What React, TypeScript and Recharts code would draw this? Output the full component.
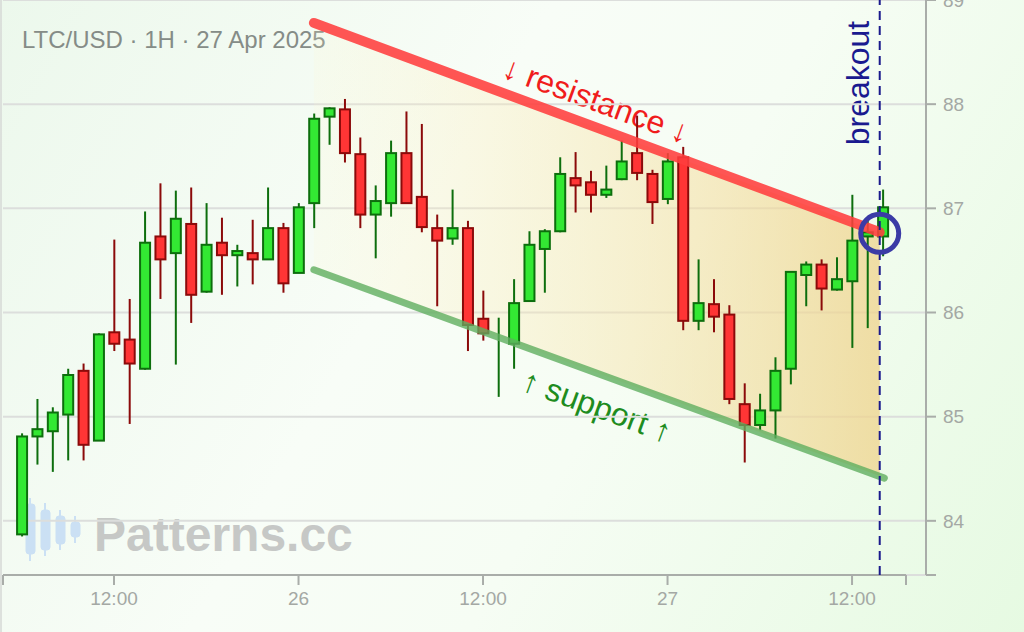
import React from 'react';
import {
  ComposedChart,
  Bar,
  Line,
  Area,
  XAxis,
  YAxis,
  CartesianGrid,
  ReferenceLine,
  ReferenceDot,
} from 'recharts';

// ---- Data (hour index from 25 Apr 06:00, 1H candles) ----
const opens = [
  83.87, 84.81, 84.86, 85.02, 85.44, 84.77, 85.81, 85.74, 85.46, 86.73,
  86.57, 86.85, 86.2, 86.67, 86.55, 86.57, 86.51, 86.81, 86.38, 87.05,
  87.88, 87.95, 87.52, 86.94, 87.05, 87.53, 87.11, 86.81, 86.71, 86.81,
  85.94, 85.8, 85.7, 86.11, 86.61, 86.78, 87.29, 87.25, 87.13, 87.28,
  87.53, 87.33, 87.09, 87.49, 85.92, 86.08, 85.98, 85.12, 84.92, 85.06,
  85.46, 86.36, 86.46, 86.22, 86.3, 86.73, 86.73,
];
const highs = [
  84.84, 85.17, 85.09, 85.46, 85.51, 85.8, 86.7, 86.13, 86.97, 87.24,
  87.17, 87.2, 87.05, 86.91, 86.65, 86.89, 87.2, 86.86, 87.05, 87.91,
  87.97, 88.05, 87.68, 87.22, 87.65, 87.93, 87.81, 86.94, 87.18, 86.88,
  86.21, 85.95, 86.32, 86.78, 86.8, 87.49, 87.54, 87.36, 87.41, 87.65,
  87.89, 87.37, 87.53, 87.59, 86.51, 86.32, 86.07, 85.32, 85.22, 85.57,
  86.39, 86.49, 86.51, 86.53, 87.13, 86.89, 87.18,
];
const lows = [
  83.85, 84.54, 84.47, 84.58, 84.58, 84.77, 85.63, 84.93, 85.45, 86.13,
  85.5, 85.9, 86.19, 86.17, 86.25, 86.27, 86.51, 86.19, 86.38, 86.81,
  87.61, 87.44, 86.81, 86.52, 86.92, 87.05, 86.77, 86.06, 86.65, 85.63,
  85.73, 85.19, 85.46, 86.11, 86.19, 86.77, 86.96, 86.96, 87.1, 87.27,
  87.27, 86.85, 87.04, 85.83, 85.83, 85.81, 85.12, 84.56, 84.87, 84.79,
  85.31, 86.06, 86.02, 86.21, 85.66, 85.85, 86.54,
];
const closes = [
  84.81, 84.88, 85.04, 85.4, 84.73, 85.79, 85.7, 85.51, 86.67, 86.51,
  86.9, 86.17, 86.65, 86.55, 86.59, 86.51, 86.81, 86.28, 87.01, 87.86,
  87.96, 87.53, 86.94, 87.07, 87.53, 87.05, 86.82, 86.69, 86.81, 85.88,
  85.8, 85.8, 86.09, 86.65, 86.78, 87.33, 87.22, 87.13, 87.18, 87.45,
  87.34, 87.06, 87.45, 85.92, 86.09, 85.96, 85.17, 84.92, 85.06, 85.44,
  86.39, 86.46, 86.23, 86.32, 86.69, 86.77, 87.01,
];

// channel lines (hour index, price)
const resistanceX = [19, 55.8];
const resistanceY = [88.78, 86.77];
const supportX = [19, 56.1];
const supportY = [86.41, 84.41];
const channelX = [19, 55.8];
const channelLow = [86.41, 84.43];
const channelHigh = [88.78, 86.77];
const breakoutX = 55.8;
const breakoutY = 86.76;

// axes
const xDomain = [-1.22, 58.81];
const xTickPositions = [-1.22, 6, 18, 30, 42, 54, 57.51];
const xTickLabels = ['', '12:00', '26', '12:00', '27', '12:00', ''];
const yDomain = [83.48, 89];
const yTicks = [83.48, 84, 85, 86, 87, 88, 89];
const yTickLabels = ['', '84', '85', '86', '87', '88', '89'];

const candles = opens.map((o, i) => ({
  i,
  o,
  h: highs[i],
  l: lows[i],
  c: closes[i],
}));
const resData = resistanceX.map((x, k) => ({ x, v: resistanceY[k] }));
const supData = supportX.map((x, k) => ({ x, v: supportY[k] }));
const chanData = channelX.map((x, k) => ({ x, band: [channelLow[k], channelHigh[k]] }));

const FONT = '"Liberation Sans", Arial, Helvetica, sans-serif';
const AXIS = '#a9ada9';

const Candle = (props: any) => {
  const { x, y, width, height, payload } = props;
  if (x == null || y == null || !payload) return null;
  const top = Math.min(y, y + height);
  const bot = Math.max(y, y + height);
  const { o, h, l, c } = payload;
  const span = h - l;
  const px = (v: number) => (span === 0 ? top : top + ((h - v) / span) * (bot - top));
  const up = c >= o;
  const fill = up ? '#33e833' : '#ff3535';
  const stroke = up ? '#0d6e0d' : '#8b0a0a';
  const cx = x + width / 2;
  const bTop = px(Math.max(o, c));
  const bBot = px(Math.min(o, c));
  return (
    <g>
      <line x1={cx} x2={cx} y1={top} y2={bot} stroke={stroke} strokeWidth={2} />
      {Math.abs(c - o) > 0.001 && (
        <rect
          x={x}
          y={bTop}
          width={width}
          height={Math.max(bBot - bTop, 1)}
          fill={fill}
          stroke={stroke}
          strokeWidth={2}
        />
      )}
    </g>
  );
};

export default function App() {
  return (
    <div
      style={{
        position: 'absolute',
        left: 0,
        top: 0,
        width: 1024,
        height: 632,
        overflow: 'hidden',
        background:
          'linear-gradient(120deg, #ecf8ec 0%, #f8fdf7 40%, #f6fdf4 60%, #e6fae2 100%)',
      }}
    >
      <svg
        width={1024}
        height={632}
        style={{ position: 'absolute', left: 0, top: 0 }}
      >
        <line x1={1} x2={1} y1={0} y2={632} stroke="#d6d9d6" strokeWidth={1.5} />
        <text x={22} y={48} fontFamily={FONT} fontSize={24} fill="#858c87">
          LTC/USD · 1H · 27 Apr 2025
        </text>
        {/* watermark */}
        <g fill="#c4dcf5" stroke="#c4dcf5" opacity={0.85}>
          <line x1={30} x2={30} y1={498} y2={561} strokeWidth={2} />
          <rect x={26} y={504} width={9} height={50} rx={3} />
          <line x1={45} x2={45} y1={503} y2={556} strokeWidth={2} />
          <rect x={41} y={510} width={9} height={40} rx={3} />
          <line x1={60} x2={60} y1={510} y2={550} strokeWidth={2} />
          <rect x={56} y={516} width={9} height={28} rx={3} />
          <line x1={75} x2={75} y1={516} y2={543} strokeWidth={2} />
          <rect x={71} y={522} width={9} height={15} rx={3} />
        </g>
        <text
          x={94}
          y={551}
          fontFamily={FONT}
          fontSize={48}
          fontWeight="bold"
          fill="#c6c8c6"
        >
          Patterns.cc
        </text>
        <text
          x={596}
          y={100}
          transform="rotate(20.2 596 100)"
          textAnchor="middle"
          dominantBaseline="central"
          fontFamily={FONT}
          fontSize={32}
          fill="#f01c1c"
        >
          ↓ resistance ↓
        </text>
        <text
          x={597}
          y={406}
          transform="rotate(20.2 597 406)"
          textAnchor="middle"
          dominantBaseline="central"
          fontFamily={FONT}
          fontSize={32}
          fill="#1e8c1e"
        >
          ↑ support ↑
        </text>
        <text
          x={858}
          y={83}
          transform="rotate(-90 858 83)"
          textAnchor="middle"
          dominantBaseline="central"
          fontFamily={FONT}
          fontSize={32}
          fill="#1a1a8f"
        >
          breakout
        </text>
      </svg>
      <div style={{ position: 'absolute', left: 0, top: 0 }}>
        <ComposedChart
          width={1024}
          height={632}
          data={candles}
          margin={{ top: 0, right: 0, bottom: 0, left: 3 }}
        >
          <defs>
            <linearGradient id="chanGrad" x1="0" y1="0" x2="1" y2="0">
              <stop offset="0%" stopColor="#fff6cc" stopOpacity={0.15} />
              <stop offset="100%" stopColor="#efd38c" stopOpacity={0.75} />
            </linearGradient>
          </defs>
          <CartesianGrid vertical={false} stroke="#dcdedc" strokeWidth={2} />
          <XAxis
            dataKey="i"
            type="number"
            domain={xDomain}
            allowDataOverflow
            ticks={xTickPositions}
            interval={0}
            tickFormatter={(v: number) => xTickLabels[xTickPositions.indexOf(v)] ?? ''}
            axisLine={false}
            tickLine={{ stroke: AXIS, strokeWidth: 2 }}
            tickSize={10}
            tickMargin={7}
            tick={{ fill: '#a4a8a4', fontSize: 19, fontFamily: FONT }}
            height={57}
          />
          <XAxis xAxisId="ch" dataKey="x" type="number" domain={xDomain} allowDataOverflow hide />
          <YAxis
            orientation="right"
            type="number"
            domain={yDomain}
            allowDataOverflow
            ticks={yTicks}
            interval={0}
            tickFormatter={(v: number) => yTickLabels[yTicks.indexOf(v)] ?? ''}
            axisLine={{ stroke: AXIS, strokeWidth: 2 }}
            tickLine={{ stroke: AXIS, strokeWidth: 2 }}
            tickSize={10}
            tickMargin={7}
            tick={{ fill: '#a4a8a4', fontSize: 19, fontFamily: FONT }}
            width={98}
          />
          <ReferenceLine
            segment={[
              { x: xTickPositions[0], y: yDomain[0] },
              { x: xTickPositions[xTickPositions.length - 1], y: yDomain[0] },
            ]}
            stroke={AXIS}
            strokeWidth={2}
          />
          <Area
            xAxisId="ch"
            data={chanData}
            dataKey="band"
            type="linear"
            stroke="none"
            fill="url(#chanGrad)"
            fillOpacity={1}
            isAnimationActive={false}
            dot={false}
            activeDot={false}
          />
          <Line
            xAxisId="ch"
            data={resData}
            dataKey="v"
            type="linear"
            stroke="#ff3d3d"
            strokeOpacity={0.88}
            strokeWidth={10}
            strokeLinecap="round"
            dot={false}
            activeDot={false}
            isAnimationActive={false}
          />
          <Line
            xAxisId="ch"
            data={supData}
            dataKey="v"
            type="linear"
            stroke="#5fae5f"
            strokeOpacity={0.8}
            strokeWidth={7}
            strokeLinecap="round"
            dot={false}
            activeDot={false}
            isAnimationActive={false}
          />
          <ReferenceLine
            x={breakoutX}
            stroke="#1a1a8c"
            strokeWidth={2}
            strokeDasharray="9 6"
          />
          <ReferenceDot
            x={breakoutX}
            y={breakoutY}
            r={19}
            fill="none"
            stroke="#3b3ba6"
            strokeWidth={5}
          />
          <Bar
            dataKey={(d: any) => [d.l, d.h]}
            barSize={10}
            shape={Candle}
            isAnimationActive={false}
          />
        </ComposedChart>
      </div>
    </div>
  );
}
